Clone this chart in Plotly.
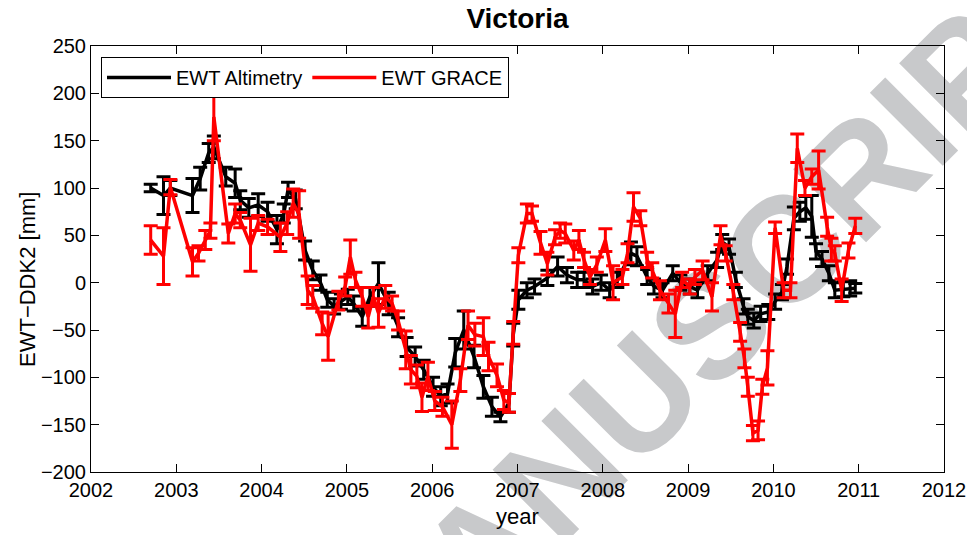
import plotly.graph_objects as go

# ---- data (decimal year, EWT in mm, 1-sigma error in mm) ----
alt_year = [2002.70, 2002.85, 2002.93, 2003.19, 2003.28, 2003.38, 2003.44, 2003.58, 2003.69, 2003.75,
            2003.85, 2003.96, 2004.07, 2004.18, 2004.26, 2004.31, 2004.40, 2004.51, 2004.60, 2004.69,
            2004.77, 2004.85, 2004.93, 2005.01, 2005.08, 2005.18, 2005.27, 2005.37, 2005.49, 2005.60,
            2005.70, 2005.80, 2005.90, 2006.01, 2006.10, 2006.18, 2006.27, 2006.37, 2006.49, 2006.60,
            2006.70, 2006.80, 2006.90, 2006.95, 2007.01, 2007.11, 2007.20, 2007.35, 2007.47, 2007.58,
            2007.70, 2007.78, 2007.88, 2007.98, 2008.08, 2008.17, 2008.33, 2008.40, 2008.52, 2008.60,
            2008.70, 2008.82, 2008.91, 2009.02, 2009.11, 2009.23, 2009.34, 2009.40, 2009.48, 2009.56,
            2009.65, 2009.70, 2009.77, 2009.85, 2009.94, 2010.02, 2010.10, 2010.16, 2010.24, 2010.31,
            2010.38, 2010.45, 2010.50, 2010.57, 2010.65, 2010.72, 2010.82, 2010.90, 2010.96]
alt_ewt = [100, 92, 100, 92, 110, 137, 143, 112, 105, 87,
           79, 82, 75, 56, 73, 98, 88, 34, 13, 0,
           -18, -25, -20, -15, -22, -36, -15, -1, -22, -47,
           -68, -78, -92, -110, -120, -117, -74, -50, -78, -110,
           -131, -142, -127, -55, -18, -8, -4, 5, 17, 8,
           3, 3, -4, 0, -8, 3, 31, 28, 6, -4,
           -8, 10, 0, -4, -8, 10, 24, 43, 38, 3,
           -25, -36, -40, -33, -31, -20, -10, 17, 68, 75,
           79, 70, 33, 25, 10, -8, -7, -6, -6]
alt_err = [4, 20, 8, 18, 12, 10, 12, 10, 15, 10,
           10, 12, 10, 15, 10, 8, 10, 10, 10, 8,
           8, 8, 8, 8, 8, 10, 10, 22, 12, 10,
           10, 10, 10, 10, 10, 10, 15, 20, 12, 12,
           10, 5, 10, 12, 10, 8, 8, 8, 10, 8,
           8, 8, 8, 8, 8, 8, 12, 10, 8, 8,
           8, 8, 8, 8, 8, 8, 8, 8, 8, 8,
           8, 8, 8, 8, 8, 8, 8, 8, 12, 10,
           12, 22, 8, 8, 8, 8, 8, 8, 5]

grace_year = [2002.70, 2002.85, 2002.93, 2003.19, 2003.26, 2003.34, 2003.40, 2003.44, 2003.61, 2003.69,
              2003.75, 2003.87, 2003.96, 2004.07, 2004.22, 2004.30, 2004.37, 2004.44, 2004.54, 2004.60,
              2004.71, 2004.78, 2004.90, 2004.98, 2005.04, 2005.10, 2005.18, 2005.25, 2005.31, 2005.37,
              2005.45, 2005.53, 2005.60, 2005.69, 2005.75, 2005.82, 2005.88, 2005.95, 2006.03, 2006.12,
              2006.23, 2006.33, 2006.42, 2006.50, 2006.60, 2006.66, 2006.76, 2006.84, 2006.90, 2006.95,
              2007.01, 2007.11, 2007.17, 2007.27, 2007.35, 2007.44, 2007.50, 2007.56, 2007.66, 2007.72,
              2007.78, 2007.85, 2007.93, 2008.03, 2008.12, 2008.23, 2008.29, 2008.36, 2008.44, 2008.52,
              2008.58, 2008.67, 2008.77, 2008.85, 2008.93, 2009.02, 2009.08, 2009.17, 2009.28, 2009.38,
              2009.44, 2009.53, 2009.61, 2009.66, 2009.70, 2009.76, 2009.82, 2009.87, 2009.93, 2010.02,
              2010.12, 2010.20, 2010.28, 2010.37, 2010.45, 2010.53, 2010.63, 2010.68, 2010.72, 2010.80,
              2010.88, 2010.96]
grace_ewt = [45, 28, 101, 22, 31, 45, 55, 175, 52, 73,
             66, 40, 63, 59, 48, 63, 84, 72, -8, -15,
             -43, -57, -19, -4, 27, 3, -15, -36, -15, -32,
             -15, -22, -40, -71, -92, -99, -121, -99, -125, -131,
             -150, -103, -45, -55, -57, -78, -98, -124, -127, -53,
             29, 73, 73, 42, 20, 48, 55, 52, 34, 45,
             24, 6, 19, 45, 0, 6, 31, 80, 68, 24,
             13, -8, -22, -33, 3, -4, 6, 13, -15, 50,
             31, -10, -52, -80, -110, -159, -156, -110, -90, 58,
             -8, -8, 142, 100, 112, 119, 59, 35, 31, -8,
             34, 60]
grace_err = [15, 30, 8, 15, 8, 10, 8, 25, 10, 10,
             8, 28, 8, 8, 15, 12, 15, 25, 15, 12,
             12, 25, 10, 10, 18, 8, 10, 12, 10, 15,
             12, 8, 10, 20, 15, 12, 15, 15, 10, 10,
             25, 12, 15, 12, 20, 15, 12, 10, 10, 12,
             8, 10, 8, 12, 12, 8, 8, 10, 10, 10,
             8, 8, 8, 12, 18, 8, 10, 15, 8, 8,
             8, 10, 10, 25, 8, 8, 8, 10, 15, 10,
             8, 8, 10, 10, 10, 8, 10, 8, 18, 6,
             8, 8, 15, 8, 8, 20, 10, 12, 8, 12,
             8, 8]

series_names = ["EWT Altimetry", "EWT GRACE"]
x_ticks = list(range(2002, 2013))
y_ticks = list(range(-200, 251, 50))

FONT = "Liberation Sans, Arial, Helvetica, sans-serif"

fig = go.Figure()
fig.add_trace(go.Scatter(
    x=alt_year, y=alt_ewt, mode="lines", name=series_names[0],
    line=dict(color="black", width=3.5),
    error_y=dict(type="data", array=alt_err, color="black", thickness=3, width=7),
))
fig.add_trace(go.Scatter(
    x=grace_year, y=grace_ewt, mode="lines", name=series_names[1],
    line=dict(color="#ff0000", width=3.5),
    error_y=dict(type="data", array=grace_err, color="#ff0000", thickness=3, width=7),
))

axis_common = dict(
    showgrid=False, zeroline=False, showline=True, linecolor="black", linewidth=1,
    mirror="ticks", ticks="inside", ticklen=8, tickcolor="black", tickwidth=1,
    tickfont=dict(family=FONT, size=20, color="black"), automargin=False,
)

# the page body adds an 8 px offset, so margins are shifted by 8 px
OFF = 8
L, R, T, B = 91 - OFF, 31 + OFF, 46 - OFF, 63 + OFF
PW, PH = 975 - L - R, 535 - T - B

fig.update_layout(
    width=975, height=535,
    margin=dict(l=L, r=R, t=T, b=B, autoexpand=False),
    paper_bgcolor="white", plot_bgcolor="rgba(0,0,0,0)",
    font=dict(family=FONT, color="black"),
    title=dict(text="<b>Victoria</b>", x=(L + PW / 2) / 975, xanchor="center",
               y=1 - (18 - OFF) / 535, yanchor="middle", yref="container",
               font=dict(family=FONT, size=28, color="black")),
    xaxis=dict(range=[2002, 2012], tickvals=x_ticks, ticktext=[str(v) for v in x_ticks],
               title=dict(text="year", font=dict(family=FONT, size=22), standoff=8),
               **axis_common),
    yaxis=dict(range=[-200, 250], tickvals=y_ticks, **axis_common),
    legend=dict(orientation="h", x=10 / PW, y=1 - 11 / PH, xanchor="left", yanchor="top",
                bgcolor="white", bordercolor="black", borderwidth=1,
                font=dict(family=FONT, size=20, color="black"), itemwidth=64,
                tracegroupgap=0),
    showlegend=True,
)

# y-axis label as a rotated annotation (screen centre about x=27, y=280)
fig.add_annotation(
    text="EWT\u2212DDK2 [mm]", textangle=-90, showarrow=False,
    xref="paper", yref="paper", xanchor="center", yanchor="middle",
    x=(27 - OFF - L) / PW, y=(535 - B - (280 - OFF)) / PH,
    font=dict(family=FONT, size=22, color="black"),
)

# watermark, drawn below the data; centred at screen pixel (394, 621)
wx, wy = 394 - OFF, 621 - OFF
cx, cy = (wx - L) / PW, (535 - B - wy) / PH
fig.add_shape(
    type="line", xref="paper", yref="paper", layer="below",
    x0=cx - 0.01, y0=cy, x1=cx + 0.01, y1=cy, line=dict(color="rgba(0,0,0,0)", width=0),
    label=dict(text="<b>ACCEPTED MANUSCRIPT</b>", textposition="middle", textangle=-45,
               xanchor="center", yanchor="middle", padding=0,
               font=dict(family=FONT, size=150, color="#c8c9cb")),
)

fig.write_html("out.html")
